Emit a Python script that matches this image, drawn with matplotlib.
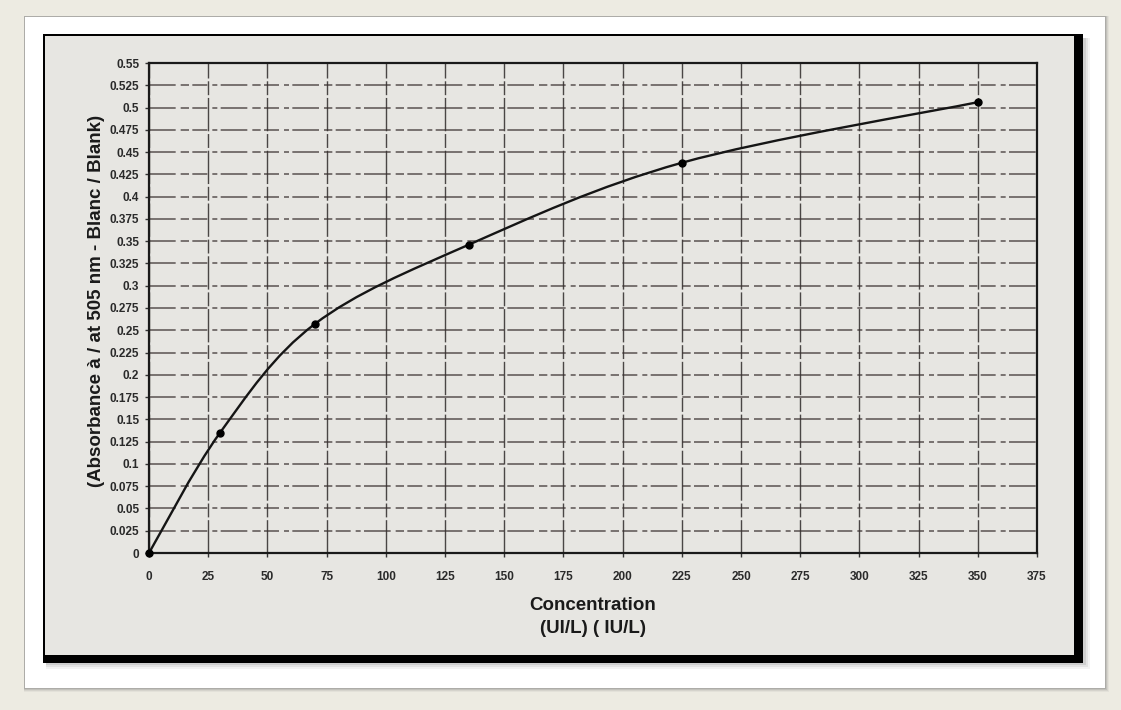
import matplotlib
matplotlib.use("Agg")
import matplotlib.pyplot as plt
import numpy as np
from matplotlib.patches import Rectangle, PathPatch
from matplotlib.path import Path

# calibration standards
concentration = [0, 30, 70, 135, 225, 350]
absorbance = [0.0, 0.135, 0.257, 0.346, 0.438, 0.506]

x_ticks = list(range(0, 376, 25))
y_ticks = [0, 0.025, 0.05, 0.075, 0.1, 0.125, 0.15, 0.175, 0.2, 0.225, 0.25,
           0.275, 0.3, 0.325, 0.35, 0.375, 0.4, 0.425, 0.45, 0.475, 0.5,
           0.525, 0.55]

x_label = "Concentration\n(UI/L) ( IU/L)"
y_label = "(Absorbance à / at 505 nm - Blanc / Blank)"

plt.rcParams["font.family"] = ["Liberation Sans", "DejaVu Sans"]

W, H = 1121, 710
fig = plt.figure(figsize=(W / 100, H / 100), dpi=100)
fig.patch.set_facecolor("#edebe2")


def px_rect(x0, y0, x1, y1, **kw):
    # rectangle given in pixel coords measured from the top left
    return Rectangle((x0 / W, 1 - y1 / H), (x1 - x0) / W, (y1 - y0) / H,
                     transform=fig.transFigure, **kw)


# card shadow + white card
for i, a in enumerate([0.08, 0.12, 0.18, 0.25]):
    o = 4 - i
    fig.patches.append(px_rect(25 - 1, 17 - 1, 1105 + o, 688 + o,
                               facecolor="#707070", alpha=a, lw=0, zorder=0))
fig.patches.append(px_rect(25, 17, 1105, 688, facecolor="white", lw=0, zorder=1))

# shadow under inner panel
for i, a in enumerate([0.08, 0.12, 0.18]):
    o = 3 - i
    fig.patches.append(px_rect(46, 38, 1084 + o * 2, 663 + o * 2,
                               facecolor="#707070", alpha=a, lw=0, zorder=2))
# inner panel: thick black on right and bottom
fig.patches.append(px_rect(43, 34, 1083, 663, facecolor="black", lw=0, zorder=3))
fig.patches.append(px_rect(45, 36, 1074, 655, facecolor="#e7e6e2", lw=0, zorder=4))

ax = fig.add_axes([149 / W, 1 - 553 / H, 888 / W, 490 / H])
ax.set_facecolor("#e7e6e2")
ax.set_zorder(5)

ax.set_xlim(0, 375)
ax.set_ylim(0, 0.55)
ax.set_xticks(x_ticks)
ax.set_yticks(y_ticks)
ax.set_xticklabels([str(v) for v in x_ticks])
ax.set_yticklabels(["%g" % v for v in y_ticks])

tick_font = dict(family=["Liberation Sans Narrow", "Liberation Sans", "DejaVu Sans"],
                 size=8.5, weight="bold", color="#2a2a2a")
for lab in ax.get_xticklabels() + ax.get_yticklabels():
    lab.set(**tick_font)
ax.tick_params(axis="both", direction="out", length=3, width=1, color="#333333")
ax.tick_params(axis="x", pad=10)
ax.tick_params(axis="y", pad=4)

for s in ax.spines.values():
    s.set_color("#1a1a1a")
    s.set_linewidth(1.6)

ax.grid(axis="y", color="#3a3030", lw=1.2, alpha=0.75,
        linestyle=(0, (16, 3, 5, 2, 9, 3, 3, 2)))
ax.grid(axis="x", color="#2e2a2a", lw=1.0, alpha=0.85,
        linestyle=(0, (24, 2, 10, 2)))
ax.set_axisbelow(True)

# smoothed line (Catmull-Rom as cubic Bezier segments)
pts = np.column_stack([concentration, absorbance]).astype(float)
verts = [pts[0]]
codes = [Path.MOVETO]
n = len(pts)
for i in range(n - 1):
    p0 = pts[i - 1] if i > 0 else pts[i]
    p1 = pts[i]
    p2 = pts[i + 1]
    p3 = pts[i + 2] if i + 2 < n else pts[i + 1]
    c1 = p1 + (p2 - p0) / 6.0
    c2 = p2 - (p3 - p1) / 6.0
    verts += [c1, c2, p2]
    codes += [Path.CURVE4] * 3
ax.add_patch(PathPatch(Path(verts, codes), facecolor="none",
                       edgecolor="#151515", lw=1.7, zorder=3))
ax.plot(concentration, absorbance, linestyle="none", marker="o",
        markersize=5, color="black", zorder=4, clip_on=False)

ax.set_xlabel(x_label, fontsize=13.5, fontweight="bold", color="#1a1a1a",
              labelpad=10, linespacing=1.45)
ax.set_ylabel(y_label, fontsize=13.5, fontweight="bold", color="#1a1a1a")
ax.yaxis.set_label_coords(-0.049, 0.514)

fig.savefig("out.png", dpi=100, facecolor=fig.get_facecolor())
